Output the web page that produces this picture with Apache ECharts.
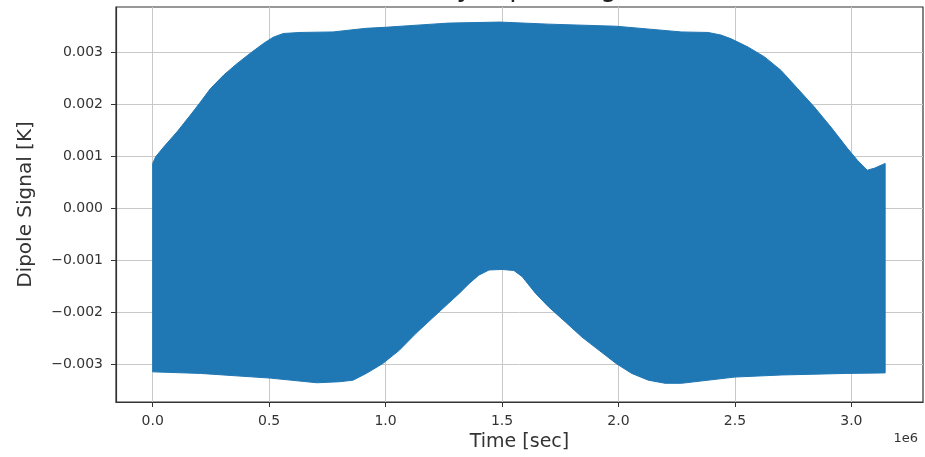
<!DOCTYPE html>
<html>
<head>
<meta charset="utf-8">
<title>Dipole Signal</title>
<script src="https://cdn.jsdelivr.net/npm/echarts@6/dist/echarts.min.js"></script>
<style>
  html, body { margin: 0; padding: 0; background: #fff; }
  #main { width: 925px; height: 457px; }
</style>
</head>
<body>
<div id="main"></div>
<script>
// 上包络 (时间 秒, 信号 K)
var upperTime = [0, 13000, 48000, 105000, 162000, 205000, 248000, 305000, 362000, 419000, 476000,
    518000, 561000, 632000, 774000, 917000, 1000000, 1200000, 1270000, 1490000, 1700000,
    1990000, 2270000, 2385000, 2440000, 2483000, 2556000, 2627000, 2698000, 2769000, 2840000,
    2912000, 2983000, 3026000, 3068000, 3100000, 3145000];
var upperVals = [0.00086, 0.00099, 0.00118, 0.00147, 0.00179, 0.00204, 0.00230, 0.00256, 0.00278, 0.00298, 0.00317,
    0.00329, 0.00336, 0.00338, 0.00339, 0.00346, 0.00348, 0.00354, 0.00356, 0.00358, 0.00354,
    0.00350, 0.00339, 0.00338, 0.00333, 0.00326, 0.00310, 0.00291, 0.00265, 0.00230, 0.00195,
    0.00156, 0.00115, 0.00092, 0.00073, 0.00077, 0.00086];

// 下包络
var lowerTime = [0, 205000, 504000, 705000, 803000, 860000, 917000, 988000, 1060000, 1130000, 1200000,
    1270000, 1316000, 1359000, 1400000, 1444000, 1500000, 1551000, 1587000, 1644000, 1700000,
    1772000, 1843000, 1915000, 1990000, 2057000, 2128000, 2200000, 2270000, 2500000, 2700000,
    2980000, 3145000];
var lowerVals = [-0.00315, -0.00318, -0.00327, -0.00336, -0.00334, -0.00331, -0.00318, -0.00299, -0.00273, -0.00241, -0.00212,
    -0.00183, -0.00164, -0.00145, -0.00129, -0.00119, -0.00118, -0.00120, -0.00132, -0.00164, -0.00190,
    -0.00219, -0.00248, -0.00273, -0.00299, -0.00318, -0.00331, -0.00337, -0.00337, -0.00325, -0.00321,
    -0.00318, -0.00317];

// 刻度
var xTicks = [0, 500000, 1000000, 1500000, 2000000, 2500000, 3000000];
var yTicks = [-0.003, -0.002, -0.001, 0, 0.001, 0.002, 0.003];

var titleText = 'Orbital Velocity Dipole Signal';
var xName = 'Time [sec]';
var yName = 'Dipole Signal [K]';

var FONT = 'DejaVu Sans';
var myChart = echarts.init(document.getElementById('main'), null, {renderer: 'canvas'});

var option = {
    backgroundColor: '#ffffff',
    animation: false,
    title: {
        text: titleText,
        left: 'center',
        top: -25,
        padding: 0,
        textStyle: {fontFamily: FONT, fontSize: 27, fontWeight: 'normal', color: '#222'}
    },
    graphic: [{
        type: 'text',
        right: 7,
        top: 432,
        style: {text: '1e6', fontFamily: FONT, fontSize: 13, fill: '#333'}
    }],
    grid: {
        left: 116, right: 2, top: 7, bottom: 55,
        show: true, borderColor: '#333', borderWidth: 1.2, backgroundColor: 'transparent'
    },
    xAxis: {
        type: 'value',
        min: -157500,
        max: 3307500,
        name: xName,
        nameLocation: 'middle',
        nameGap: 30,
        nameTextStyle: {fontFamily: FONT, fontSize: 19, color: '#333'},
        axisLine: {show: true, onZero: false, lineStyle: {color: '#333', width: 1.2}},
        axisTick: {show: true, customValues: xTicks, length: 5, lineStyle: {color: '#333'}},
        axisLabel: {
            customValues: xTicks, margin: 12,
            fontFamily: FONT, fontSize: 14, color: '#333',
            formatter: function (v) { return (v / 1e6).toFixed(1); }
        },
        splitLine: {show: true, lineStyle: {color: '#c8c8c8', width: 1}}
    },
    yAxis: {
        type: 'value',
        min: -0.00373,
        max: 0.00387,
        name: yName,
        nameLocation: 'middle',
        nameGap: 80,
        nameTextStyle: {fontFamily: FONT, fontSize: 20, color: '#333'},
        axisLine: {show: true, onZero: false, lineStyle: {color: '#333', width: 1.2}},
        axisTick: {show: true, customValues: yTicks, length: 5, lineStyle: {color: '#333'}},
        axisLabel: {
            customValues: yTicks, margin: 13,
            fontFamily: FONT, fontSize: 14, color: '#333',
            formatter: function (v) { return v.toFixed(3).replace('-', '\u2212'); }
        },
        splitLine: {show: true, lineStyle: {color: '#c8c8c8', width: 1}}
    },
    series: [{
        type: 'custom',
        name: 'dipole',
        data: [[0, 0]],
        clip: true,
        z: 3,
        renderItem: function (params, api) {
            var pts = [];
            var i;
            // 上包络正序 + 下包络倒序 组成填充多边形
            for (i = 0; i < upperTime.length; i++) {
                pts.push(api.coord([upperTime[i], upperVals[i]]));
            }
            for (i = lowerTime.length - 1; i >= 0; i--) {
                pts.push(api.coord([lowerTime[i], lowerVals[i]]));
            }
            return {
                type: 'polygon',
                shape: {points: pts},
                style: {fill: '#1f77b4', stroke: '#1f77b4', lineWidth: 1}
            };
        }
    }]
};

myChart.setOption(option);
</script>
</body>
</html>
